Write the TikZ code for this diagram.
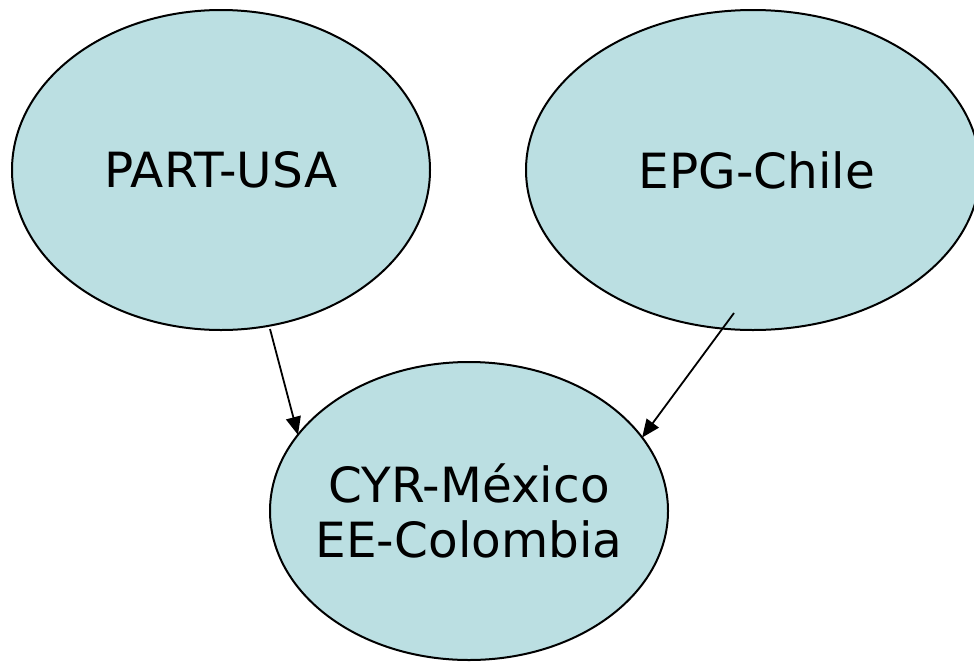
\documentclass[tikz,border=0pt]{standalone}
\usepackage{fontspec}
\setmainfont{DejaVu Sans}
\usetikzlibrary{shapes.geometric,arrows.meta}
\definecolor{bubble}{RGB}{187,223,226}
\tikzset{
  bub/.style={ellipse, draw=black, line width=2pt, fill=bubble, inner sep=0pt, outer sep=0pt},
  lbl/.style={font=\fontsize{48.5}{55}\selectfont, align=center, inner sep=0pt},
  conn/.style={line width=1.8pt, -{Triangle[length=18pt,width=15pt]}}
}
\begin{document}
\begin{tikzpicture}[x=1pt,y=-1pt]
\useasboundingbox (0,0) rectangle (974,662);
\clip (0,0) rectangle (974,662);
\node[bub, minimum width=418pt, minimum height=320pt] (usa) at (221,170) {};
\node[bub, minimum width=454pt, minimum height=320pt] (chile) at (753,170) {};
\node[bub, minimum width=398pt, minimum height=298pt] (mex) at (469,511) {};
\node[lbl] (usat) at (usa) {PART-USA};
\node[lbl] (chilet) at ([xshift=4pt]chile.center) {EPG-Chile};
\node[lbl] (mext) at (mex.center) {CYR-México\\EE-Colombia};
\coordinate (s1) at (270,329);
\coordinate (s2) at (734,313);
\draw[conn] (s1) -- (mex.156);
\draw[conn] (s2) -- (mex.23);
\end{tikzpicture}
\end{document}
